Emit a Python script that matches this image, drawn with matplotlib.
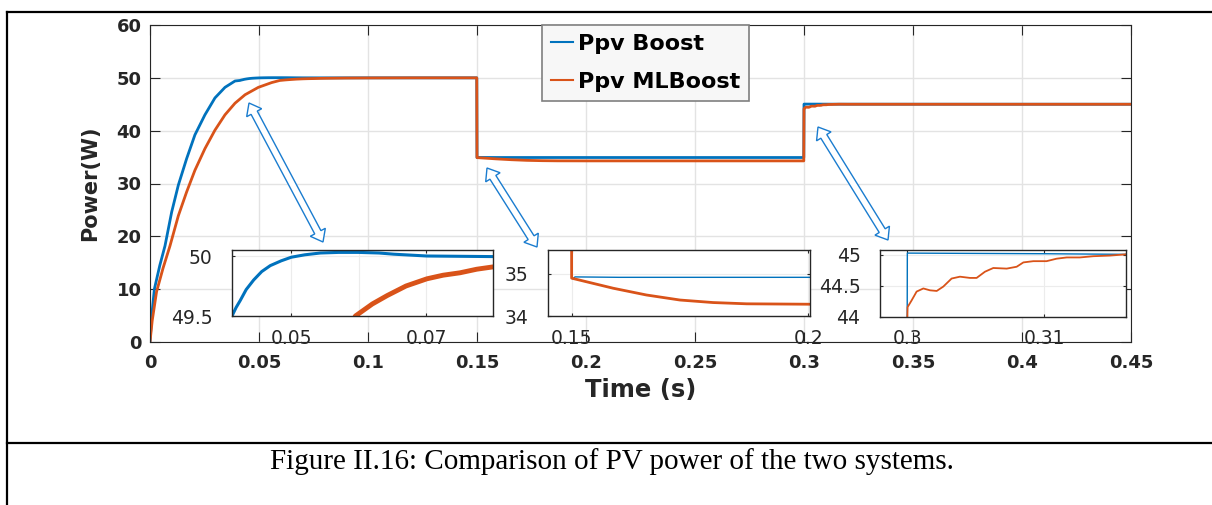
import numpy as np
import matplotlib
matplotlib.use("Agg")
import matplotlib.pyplot as plt
from matplotlib.patches import Polygon
from matplotlib.lines import Line2D

# ---- data ----
t_boost = [0, 0.0008, 0.002, 0.0045, 0.00688, 0.00994, 0.0130, 0.0168, 0.0206, 0.0252,
           0.0298, 0.0344, 0.0390, 0.0412, 0.0418, 0.04243, 0.0433, 0.04441, 0.0456,
           0.04688, 0.0485, 0.05, 0.052, 0.0543, 0.057, 0.060, 0.063, 0.0652, 0.0701,
           0.080, 0.10, 0.1499, 0.1500, 0.1503, 0.1507, 0.16,
           0.2, 0.2999, 0.3, 0.31, 0.316, 0.45]
p_boost = [0, 5, 10, 14.5, 18.2, 24.6, 29.7, 34.7, 39.2, 43.0,
           46.2, 48.2, 49.4, 49.5, 49.57, 49.63, 49.72, 49.80, 49.87,
           49.92, 49.96, 49.99, 50.01, 50.025, 50.03, 50.03, 50.025, 50.015, 50.0,
           49.995, 50.0, 50.0, 34.92, 34.88, 34.93, 34.92,
           34.92, 34.92, 45.03, 45.02, 45.01, 45.0]

t_ml = [0, 0.001, 0.003, 0.006, 0.00917, 0.0130, 0.0168, 0.0206, 0.0252, 0.0298,
        0.0344, 0.0390, 0.0436, 0.0497, 0.0558, 0.0595, 0.062, 0.0642, 0.067,
        0.0701, 0.0725, 0.075, 0.0775, 0.080, 0.09, 0.1, 0.12, 0.1499, 0.15,
        0.1588, 0.1658, 0.1729, 0.1799, 0.187, 0.2004, 0.25, 0.2999,
        0.30, 0.30002, 0.30032, 0.30068, 0.30117, 0.30166, 0.30215, 0.30263,
        0.30324, 0.30385, 0.30458, 0.30507, 0.30568, 0.30629, 0.30727, 0.308,
        0.30849, 0.30922, 0.31019, 0.31092, 0.31166, 0.31263, 0.31361, 0.31483,
        0.316, 0.32, 0.45]
p_ml = [0, 4, 9.5, 14, 18.2, 23.9, 28.4, 32.5, 36.6, 40.1,
        43.0, 45.2, 46.8, 48.2, 49.1, 49.5, 49.6, 49.67, 49.75,
        49.81, 49.84, 49.86, 49.89, 49.91, 49.96, 49.98, 50.0, 50.0, 34.90,
        34.66, 34.50, 34.38, 34.32, 34.29, 34.28, 34.28, 34.28,
        44.0, 44.16, 44.27, 44.41, 44.46, 44.43, 44.42, 44.49,
        44.62, 44.65, 44.63, 44.63, 44.73, 44.79, 44.78, 44.81,
        44.88, 44.90, 44.90, 44.94, 44.96, 44.96, 44.98, 44.99,
        45.01, 45.0, 45.0]

x_ticks = [0, 0.05, 0.1, 0.15, 0.2, 0.25, 0.3, 0.35, 0.4, 0.45]
x_tick_labels = ["0", "0.05", "0.1", "0.15", "0.2", "0.25", "0.3", "0.35", "0.4", "0.45"]
y_ticks = [0, 10, 20, 30, 40, 50, 60]

BLUE = "#0072BD"
ORANGE = "#D95319"
W, H = 1212, 505

fig = plt.figure(figsize=(W / 100, H / 100), dpi=100)


def px_box(left, top, right, bottom):
    return [left / W, 1 - bottom / H, (right - left) / W, (bottom - top) / H]


# main axes
ax = fig.add_axes(px_box(150, 25, 1131, 342))
ax.plot(t_boost, p_boost, color=BLUE, lw=2, label="Ppv Boost")
ax.plot(t_ml, p_ml, color=ORANGE, lw=2, label="Ppv MLBoost")
ax.set_xlim(0, 0.45)
ax.set_ylim(0, 60)
ax.set_xticks(x_ticks)
ax.set_xticklabels(x_tick_labels)
ax.set_yticks(y_ticks)
ax.grid(True, color="#e3e3e3", lw=1)
ax.tick_params(direction="in", length=7, width=0.8, top=True, right=True,
               colors="#262626", labelsize=13)
ax.tick_params(axis="x", pad=9)
ax.tick_params(axis="y", pad=6)
for lab in ax.get_xticklabels() + ax.get_yticklabels():
    lab.set_fontweight("bold")
for s in ax.spines.values():
    s.set_color("#262626")
    s.set_linewidth(0.8)
ax.set_xlabel("Time (s)", fontsize=17.5, fontweight="bold", color="#262626")
ax.set_ylabel("Power(W)", fontsize=15, fontweight="bold", color="#262626")
ax.xaxis.set_label_coords(0.5, -0.115)
ax.yaxis.set_label_coords(-0.051, 0.5)

leg = ax.legend(loc="upper left", bbox_to_anchor=(0.3996, 1.0), borderaxespad=0,
                prop={"weight": "bold", "size": 16},
                fancybox=False, framealpha=1, facecolor="#f7f7f7", edgecolor="#7f7f7f",
                handlelength=1.0, handletextpad=0.2, borderpad=0.4, labelspacing=0.8)
for ln in leg.get_lines():
    ln.set_linewidth(1.5)
leg.get_frame().set_linewidth(1.2)


def inset(box, xlim, ylim, xt, xtl, yt, lw_b, lw_o):
    a = fig.add_axes(px_box(*box))
    a.plot(t_boost, p_boost, color=BLUE, lw=lw_b)
    a.plot(t_ml, p_ml, color=ORANGE, lw=lw_o)
    a.set_xlim(*xlim)
    a.set_ylim(*ylim)
    a.set_xticks(xt)
    a.set_xticklabels(xtl)
    a.set_yticks(yt)
    a.set_yticklabels([f"{v:g}" for v in yt])
    a.grid(True, color="#ececec", lw=0.8)
    a.tick_params(direction="in", length=2.5, width=0.8, top=True, right=True,
                  colors="#262626", labelsize=13.5)
    a.tick_params(axis="y", pad=14)
    a.tick_params(axis="x", pad=9)
    for s in a.spines.values():
        s.set_color("#262626")
        s.set_linewidth(1)
    return a


inset((232, 250, 493, 316), (0.0412, 0.0799), (49.5, 50.05),
      [0.05, 0.06, 0.07], ["0.05", "", "0.07"], [49.5, 50], 2.2, 3.5)
inset((548, 250, 810, 316), (0.1450, 0.2004), (34, 35.57),
      [0.15, 0.2], ["0.15", "0.2"], [34, 35], 1.0, 2.0)
inset((880, 250, 1126, 317), (0.2980, 0.3160), (44, 45.08),
      [0.3, 0.31], ["0.3", "0.31"], [44, 44.5, 45], 1.0, 1.3)


def double_arrow(p0, p1, half_shaft=3.5, half_head=8.5, head_len=11):
    p0 = np.array(p0, float)
    p1 = np.array(p1, float)
    d = p1 - p0
    u = d / np.hypot(*d)
    n = np.array([-u[1], u[0]])
    a = p0 + u * head_len
    b = p1 - u * head_len
    pts = [p0, a + n * half_head, a + n * half_shaft, b + n * half_shaft,
           b + n * half_head, p1, b - n * half_head, b - n * half_shaft,
           a - n * half_shaft, a - n * half_head]
    pts = [(x / W, 1 - y / H) for x, y in pts]
    fig.patches.append(Polygon(pts, closed=True, transform=fig.transFigure,
                               facecolor="white", edgecolor="#1a7ccf", lw=1.0, zorder=5))


double_arrow((249, 103), (323, 242))
double_arrow((487, 168), (537, 247))
double_arrow((818, 127), (888, 240))

# page frame lines
frame_kw = dict(color="black", lw=1.6, transform=fig.transFigure)
fig.add_artist(Line2D([7 / W, 1], [1 - 12 / H, 1 - 12 / H], **frame_kw))
fig.add_artist(Line2D([7 / W, 7 / W], [0, 1 - 12 / H], **frame_kw))
fig.add_artist(Line2D([7 / W, 1], [1 - 443 / H, 1 - 443 / H], **frame_kw))

fig.text(612 / W, 1 - 462 / H, "Figure II.16: Comparison of PV power of the two systems.",
         ha="center", va="center", fontsize=21, family="Liberation Serif")

fig.savefig("out.png", dpi=100)
